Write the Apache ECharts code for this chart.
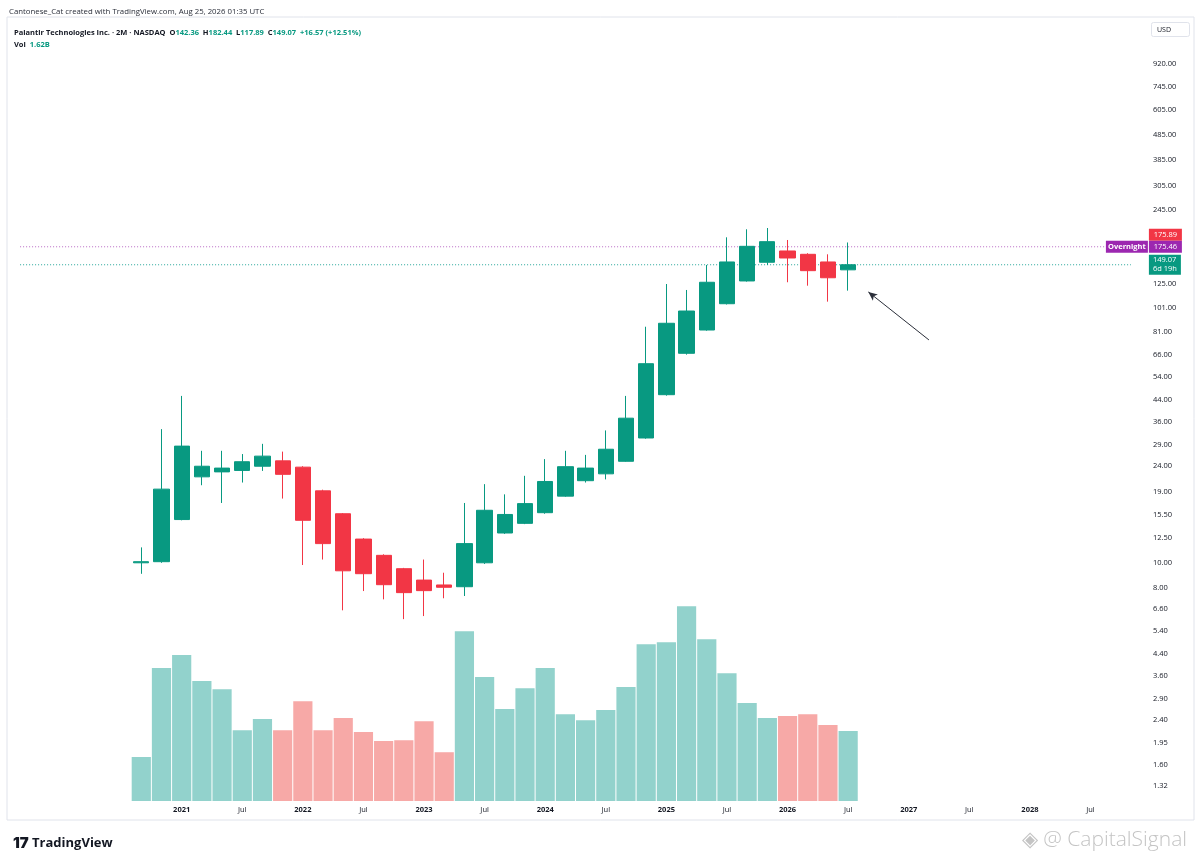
<!DOCTYPE html>
<html><head><meta charset="utf-8">
<script src="https://cdn.jsdelivr.net/npm/echarts@6/dist/echarts.min.js"></script>
<style>html,body{margin:0;padding:0;background:#fff}#c{width:1200px;height:861px}</style>
</head><body><div id="c"></div>
<script>
// ---- category axis (2-month bars, incl. empty leading and future slots) ----
const categories = [
 '2019-09','2019-11',
 '2020-01','2020-03','2020-05','2020-07','2020-09','2020-11',
 '2021-01','2021-03','2021-05','2021-07','2021-09','2021-11',
 '2022-01','2022-03','2022-05','2022-07','2022-09','2022-11',
 '2023-01','2023-03','2023-05','2023-07','2023-09','2023-11',
 '2024-01','2024-03','2024-05','2024-07','2024-09','2024-11',
 '2025-01','2025-03','2025-05','2025-07','2025-09','2025-11',
 '2026-01','2026-03','2026-05','2026-07','2026-09','2026-11',
 '2027-01','2027-03','2027-05','2027-07','2027-09','2027-11',
 '2028-01','2028-03','2028-05','2028-07','2028-09','2028-11'
];
// ---- bars with data ----
const periods = [
 '2020-09','2020-11',
 '2021-01','2021-03','2021-05','2021-07','2021-09','2021-11',
 '2022-01','2022-03','2022-05','2022-07','2022-09','2022-11',
 '2023-01','2023-03','2023-05','2023-07','2023-09','2023-11',
 '2024-01','2024-03','2024-05','2024-07','2024-09','2024-11',
 '2025-01','2025-03','2025-05','2025-07','2025-09','2025-11',
 '2026-01','2026-03','2026-05','2026-07'
];
const opens  = [10.0,10.1,14.8,21.8,22.8,23.1,24.0,25.2,23.8,19.2,15.6,12.4,10.7,9.48,8.55,8.18,8.05,10.0,13.1,14.3,15.75,18.3,21.05,22.4,25.1,31.0,45.9,66.8,82.5,104.7,128.7,152.5,168.9,163.9,152.9,142.36];
const highs  = [11.5,33.6,45.4,27.6,27.6,26.8,29.4,27.4,24.0,19.4,15.7,12.5,10.8,9.55,10.3,9.14,17.2,20.4,18.6,22.0,25.6,27.6,26.6,33.2,45.4,85.0,125.2,118.6,148.8,191.2,205.6,208.0,186.6,165.5,163.9,182.44];
const lows   = [9.05,10.0,14.7,20.2,17.2,20.7,23.0,17.9,9.8,10.3,6.5,7.74,7.18,6.0,6.17,7.25,7.4,9.9,13.0,14.2,15.6,18.2,20.7,21.3,25.0,30.8,45.5,66.0,82.0,104.0,128.0,148.8,127.2,123.3,106.7,117.89];
const closes = [10.1,19.5,28.8,24.0,23.6,25.0,26.3,22.3,14.7,11.9,9.3,9.06,8.2,7.63,7.77,8.01,11.9,16.1,15.5,17.1,20.9,23.9,23.6,28.0,37.1,60.8,87.7,98.0,127.2,152.9,176.2,183.8,158.5,141.3,132.5,149.07];
// volume in billions
const volumes = [1.02,3.08,3.38,2.78,2.59,1.64,1.90,1.64,2.31,1.64,1.92,1.60,1.39,1.41,1.85,1.13,3.93,2.87,2.13,2.61,3.08,2.01,1.87,2.11,2.64,3.63,3.68,4.51,3.75,2.96,2.27,1.92,1.97,2.01,1.76,1.62];
// price-scale tick labels
const priceTicks = [920,745,605,485,385,305,245,155,125,101,81,66,54,44,36,29,24,19,15.5,12.5,10,8,6.6,5.4,4.4,3.6,2.9,2.4,1.95,1.6,1.32];
// price markers
const markerPrice = 175.89;
const overnightPrice = 175.46;
const countdown = '6d 19h';
// annotation arrow (category, price)
const arrowFrom = ['2027-03', 75.4];
const arrowTo = ['2026-09', 116.5];

const UP = '#089981', DOWN = '#f23645', PURPLE = '#9c27b0';
const FONT = "'Open Sans', 'Noto Sans', sans-serif";
const offset = categories.indexOf(periods[0]);
const n = periods.length, last = n - 1;

const candleData = categories.map((c, i) => {
  const k = i - offset;
  return (k >= 0 && k < n) ? [opens[k], closes[k], lows[k], highs[k]] : '-';
});
const volData = categories.map((c, i) => {
  const k = i - offset;
  if (k < 0 || k >= n) return '-';
  return { value: volumes[k], itemStyle: { color: closes[k] >= opens[k] ? 'rgba(38,166,154,0.5)' : 'rgba(239,83,80,0.5)' } };
});
const overnightLine = categories.map(() => overnightPrice);
const closeLine = categories.map(() => closes[last]);

const prevClose = closes[n - 2];
const chg = closes[last] - prevClose;
const pct = chg / prevClose * 100;
const sign = v => (v >= 0 ? '+' : '') + v.toFixed(2);
const headerLine = '{n|Palantir Technologies Inc. · 2M · NASDAQ}{n|  O}{g|' + opens[last].toFixed(2) +
  '}{n|  H}{g|' + highs[last].toFixed(2) + '}{n|  L}{g|' + lows[last].toFixed(2) +
  '}{n|  C}{g|' + closes[last].toFixed(2) + '}{g|  ' + sign(chg) + ' (' + sign(pct) + '%)}';
const volLine = '{n|Vol}{g|  ' + volumes[last].toFixed(2) + 'B}';

const hdrRich = { n: { color: '#131722', fontSize: 7.5, fontFamily: FONT }, g: { color: UP, fontSize: 7.5, fontFamily: FONT } };
const boxBase = { color: '#fff', fontSize: 7.5, height: 12, lineHeight: 12, align: 'center', fontFamily: FONT };

const chart = echarts.init(document.getElementById('c'), null, { renderer: 'canvas' });
chart.setOption({
  animation: false,
  backgroundColor: '#ffffff',
  title: [
    { text: 'Cantonese_Cat created with TradingView.com, Aug 25, 2026 01:35 UTC', left: 4, top: 3,
      textStyle: { fontSize: 7.8, fontWeight: 'normal', color: '#2a2e39', fontFamily: FONT } },
    { text: headerLine, left: 9, top: 24, textStyle: { rich: hdrRich } },
    { text: volLine, left: 9, top: 36, textStyle: { rich: hdrRich } },
    { text: 'USD', right: 10, top: 22, borderColor: '#e0e3eb', borderWidth: 1, borderRadius: 2, padding: [4, 19, 4, 6],
      textStyle: { fontSize: 7, fontWeight: 'normal', color: '#131722', fontFamily: FONT } },
    { text: '{l|17}{t| TradingView}', left: 8, top: 831,
      textStyle: { rich: { l: { fontSize: 15, fontWeight: 900, color: '#131722', fontFamily: 'Inter' },
                           t: { fontSize: 13, fontWeight: 700, color: '#131722', fontFamily: FONT } } } },
    { text: '◈ @ CapitalSignal', right: 8, top: 825,
      textStyle: { fontSize: 21, fontWeight: 300, color: '#c4c4c4', fontFamily: FONT } }
  ],
  graphic: [
    { type: 'rect', shape: { x: 7, y: 17, width: 1187, height: 803 }, style: { fill: 'none', stroke: '#e0e3eb', lineWidth: 1 }, silent: true, z: -1 }
  ],
  grid: [
    { left: 10, right: 59, top: 10, bottom: 60 },
    { left: 10, right: 59, bottom: 60, height: 259 }
  ],
  xAxis: [
    { type: 'category', gridIndex: 0, data: categories, boundaryGap: true,
      axisLine: { show: false }, axisTick: { show: false }, splitLine: { show: false },
      axisLabel: { interval: 0, margin: 5, hideOverlap: false,
        formatter: (val, idx) => {
          if (idx < offset) return '';
          const p = val.split('-');
          if (p[1] === '01') return '{y|' + p[0] + '}';
          if (p[1] === '07') return '{m|Jul}';
          return '';
        },
        rich: { y: { fontSize: 7.5, fontWeight: 700, color: '#131722', fontFamily: FONT },
                m: { fontSize: 7.5, color: '#131722', fontFamily: FONT } } } },
    { type: 'category', gridIndex: 1, data: categories, boundaryGap: true, show: false }
  ],
  yAxis: [
    { type: 'log', logBase: 10, gridIndex: 0, position: 'right', min: 1.154, max: 1501,
      axisLine: { show: false }, axisTick: { show: false }, splitLine: { show: false },
      axisLabel: { customValues: priceTicks, formatter: v => Number(v).toFixed(2), margin: 12, align: 'left',
        fontSize: 7.5, color: '#131722', fontFamily: FONT } },
    { type: 'value', gridIndex: 1, min: 0, max: 6, show: false, splitLine: { show: false } }
  ],
  series: [
    { type: 'bar', name: 'Vol', xAxisIndex: 1, yAxisIndex: 1, data: volData, barCategoryGap: '5%', z: 1, silent: true },
    { type: 'line', name: 'Overnight', xAxisIndex: 0, yAxisIndex: 0, data: overnightLine, symbol: 'none', silent: true, z: 2,
      lineStyle: { color: '#b868c4', type: [1, 2], width: 1 },
      endLabel: { show: true, distance: -25,
        formatter: '{sp| }{gap| }{r|' + markerPrice.toFixed(2) + '}\n{o|Overnight}{gap| }{p|' + overnightPrice.toFixed(2) + '}\n{e| }',
        rich: {
          sp: { width: 34, padding: [0, 4], height: 12, lineHeight: 12, fontSize: 7.5 },
          gap: { width: 1, height: 12, lineHeight: 12, fontSize: 7.5 },
          r: Object.assign({ backgroundColor: DOWN, width: 27, padding: [0, 3] }, boxBase),
          o: Object.assign({ backgroundColor: PURPLE, width: 34, padding: [0, 4], fontWeight: 700 }, boxBase),
          p: Object.assign({ backgroundColor: PURPLE, width: 27, padding: [0, 3] }, boxBase),
          e: { height: 12, lineHeight: 12, fontSize: 7.5 }
        } } },
    { type: 'line', name: 'Close', xAxisIndex: 0, yAxisIndex: 0, data: closeLine, symbol: 'none', silent: true, z: 2,
      lineStyle: { color: '#26a69a', type: [1, 2], width: 1 },
      endLabel: { show: true, distance: 18,
        formatter: closes[last].toFixed(2) + '\n' + countdown,
        backgroundColor: UP, color: '#fff', fontSize: 7.5, lineHeight: 9, padding: [1, 4], fontFamily: FONT } },
    { type: 'candlestick', name: 'PLTR', xAxisIndex: 0, yAxisIndex: 0, data: candleData, barWidth: '78%', z: 3,
      itemStyle: { color: UP, color0: DOWN, borderColor: UP, borderColor0: DOWN, borderWidth: 1 },
      markLine: {
        silent: true, symbol: ['none', 'none'], animation: false,
        data: [
          [
            { coord: arrowFrom, symbol: 'none', lineStyle: { color: '#2a2e39', width: 1, type: 'solid' }, label: { show: false } },
            { coord: arrowTo, symbol: 'arrow', symbolSize: [6, 9] }
          ]
        ]
      } }
  ]
});
</script></body></html>
